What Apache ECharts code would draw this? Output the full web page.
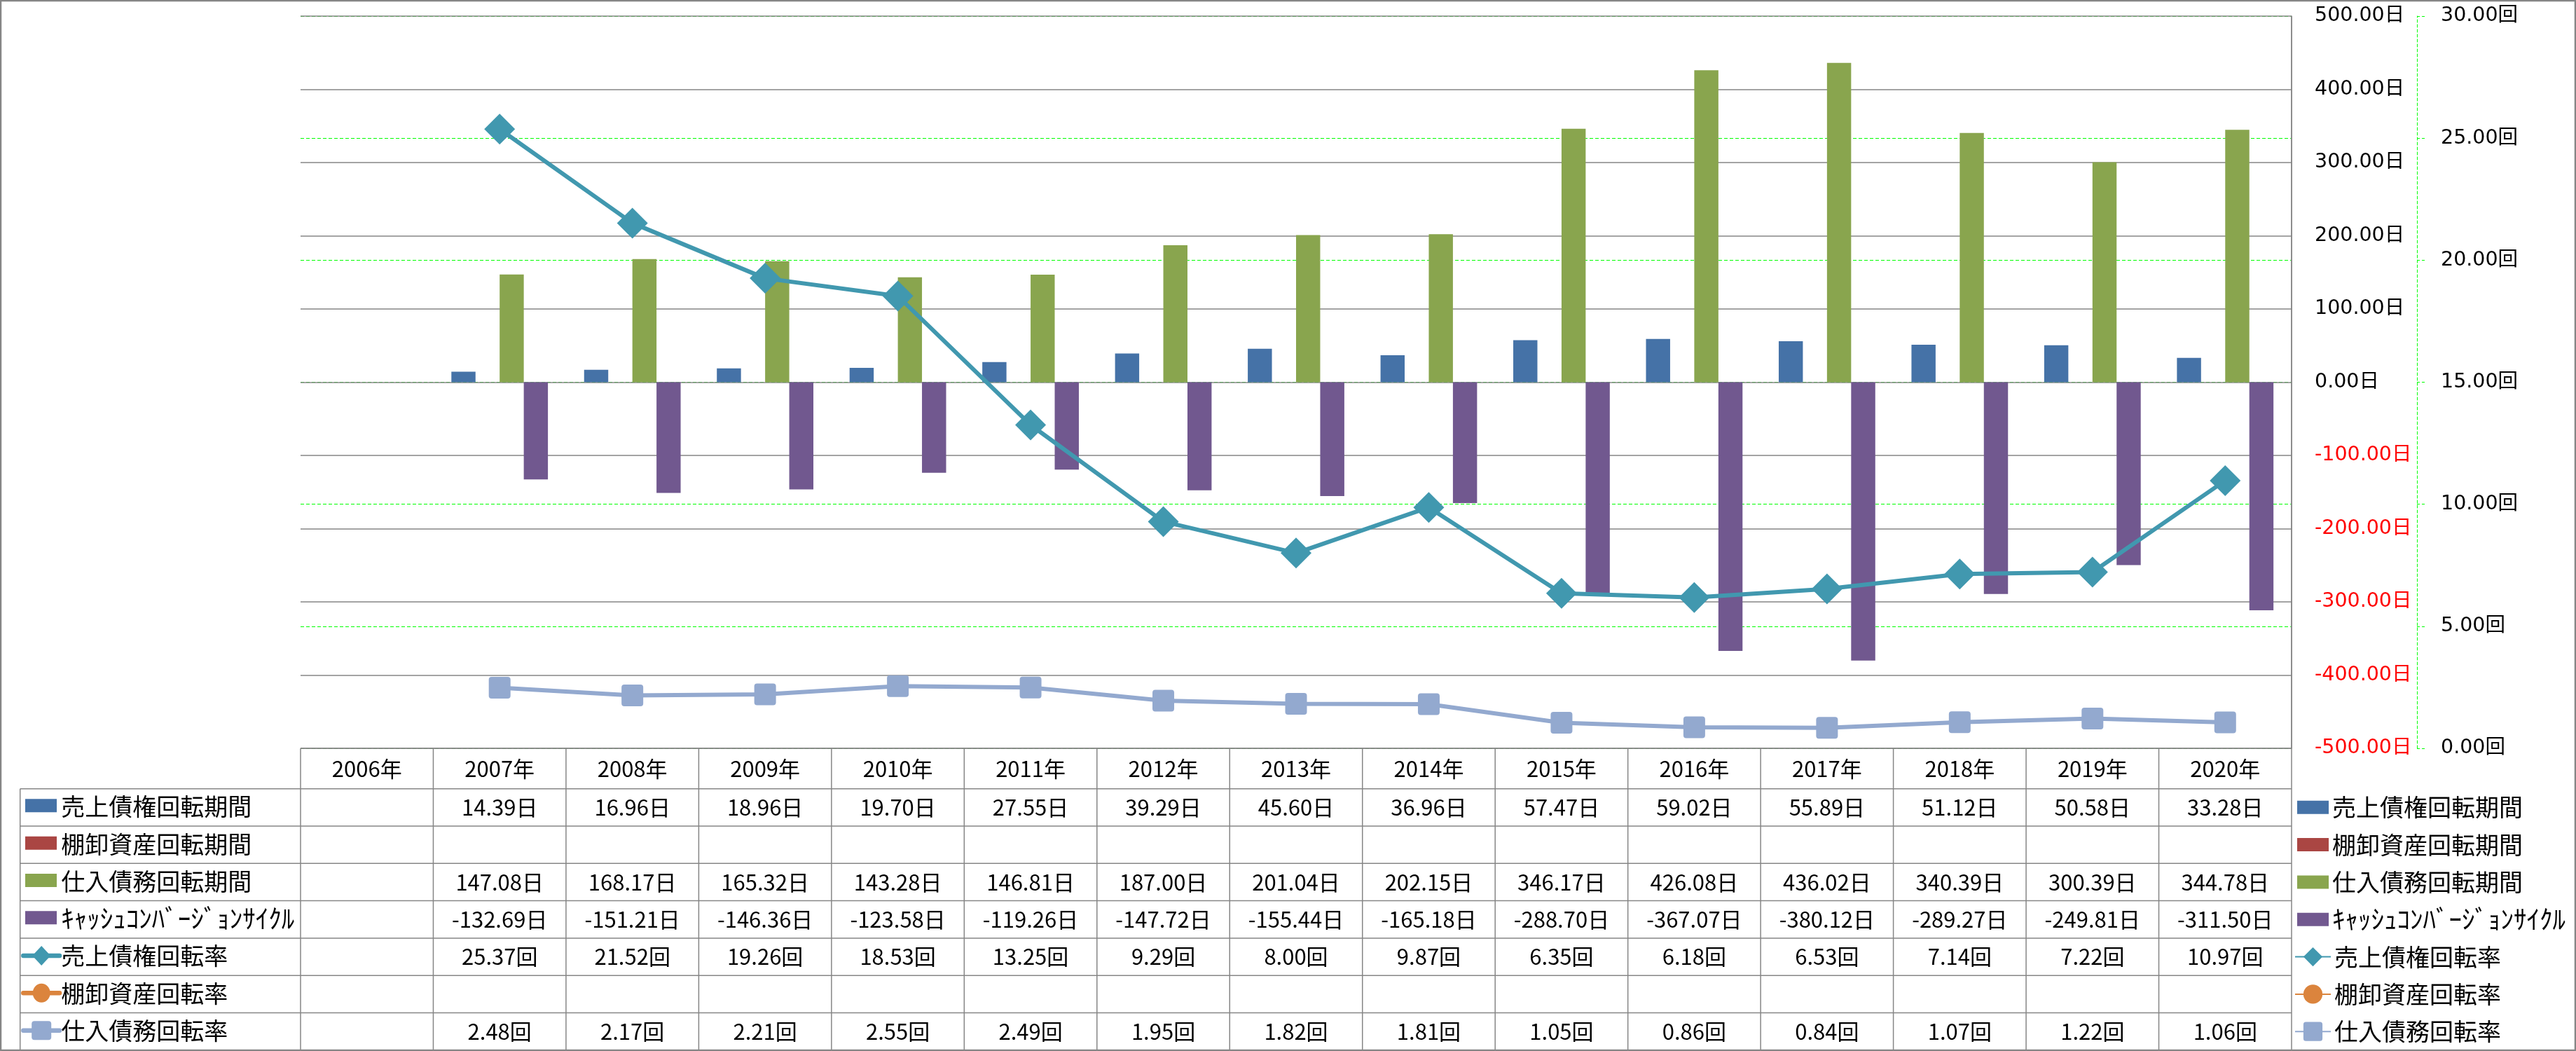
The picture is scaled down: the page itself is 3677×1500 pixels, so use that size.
<!DOCTYPE html>
<html>
<head>
<meta charset="utf-8">
<script src="https://cdn.jsdelivr.net/npm/echarts@6/dist/echarts.min.js"></script>
<style>html,body{margin:0;padding:0;background:#fff}#c{width:3677px;height:1500px}</style>
</head>
<body>
<div id="c"></div>
<script>
// ---- data ----
const years = ['2006年','2007年','2008年','2009年','2010年','2011年','2012年','2013年','2014年','2015年','2016年','2017年','2018年','2019年','2020年'];
const arPeriod  = [null,14.39,16.96,18.96,19.70,27.55,39.29,45.60,36.96,57.47,59.02,55.89,51.12,50.58,33.28];
const invPeriod = [null,null,null,null,null,null,null,null,null,null,null,null,null,null,null];
const apPeriod  = [null,147.08,168.17,165.32,143.28,146.81,187.00,201.04,202.15,346.17,426.08,436.02,340.39,300.39,344.78];
const cccPeriod = [null,-132.69,-151.21,-146.36,-123.58,-119.26,-147.72,-155.44,-165.18,-288.70,-367.07,-380.12,-289.27,-249.81,-311.50];
const arTurnover  = [null,25.37,21.52,19.26,18.53,13.25,9.29,8.00,9.87,6.35,6.18,6.53,7.14,7.22,10.97];
const invTurnover = [null,null,null,null,null,null,null,null,null,null,null,null,null,null,null];
const apTurnover  = [null,2.48,2.17,2.21,2.55,2.49,1.95,1.82,1.81,1.05,0.86,0.84,1.07,1.22,1.06];
const seriesNames = ['売上債権回転期間','棚卸資産回転期間','仕入債務回転期間','ｷｬｯｼｭｺﾝﾊﾞｰｼﾞｮﾝｻｲｸﾙ','売上債権回転率','棚卸資産回転率','仕入債務回転率'];
const seriesUnits = ['日','日','日','日','回','回','回'];
const seriesData = [arPeriod, invPeriod, apPeriod, cccPeriod, arTurnover, invTurnover, apTurnover];
const dayAxis = {min:-500, max:500, interval:100, unit:'日'};
const timesAxis = {min:0, max:30, interval:5, unit:'回'};

// ---- styles ----
const colors = ['#4572A7','#AA4643','#89A54E','#71588F','#4198AF','#DB843D','#93A9CF'];
const CJK = "'Noto Sans CJK JP', sans-serif";
const AXF = "'DejaVu Sans', 'Noto Sans CJK JP', sans-serif";
const GRID_LINE = '#868686';
const sqPath = 'path://M4,0H27A4,4 0 0 1 31,4V27A4,4 0 0 1 27,31H4A4,4 0 0 1 0,27V4A4,4 0 0 1 4,0Z';

const chart = echarts.init(document.getElementById('c'), null, {renderer:'canvas'});

const barCommon = {type:'bar', yAxisIndex:0, barGap:'0%', barCategoryGap:'27.27%'};
const option = {
  animation:false,
  backgroundColor:'#fff',
  grid:{left:429, right:406, top:23, bottom:432, containLabel:false},
  xAxis:{type:'category', data:years, boundaryGap:true,
    axisLine:{show:false}, axisTick:{show:false}, axisLabel:{show:false}, splitLine:{show:false}},
  yAxis:[
    {type:'value', position:'right', z:1, min:dayAxis.min, max:dayAxis.max, interval:dayAxis.interval,
     axisLine:{show:true, onZero:false, lineStyle:{color:GRID_LINE, width:1.5}},
     axisTick:{show:false},
     splitLine:{show:true, lineStyle:{color:GRID_LINE, width:1.5}},
     axisLabel:{margin:33, formatter:v => (v<0?'{neg|':'{pos|') + v.toFixed(2) + dayAxis.unit + '}',
       rich:{pos:{color:'#000', fontSize:28.5, fontFamily:AXF}, neg:{color:'#ff0000', fontSize:28.5, fontFamily:AXF}}}},
    {type:'value', position:'right', z:0, offset:179, min:timesAxis.min, max:timesAxis.max, interval:timesAxis.interval,
     axisLine:{show:true, onZero:false, lineStyle:{color:'#00ff00', width:1, type:[4,3]}},
     axisTick:{show:true, length:12, lineStyle:{color:'#00ff00', width:1, type:[4,3]}},
     splitLine:{show:true, lineStyle:{color:'#00ff00', width:1, type:[5,3]}},
     axisLabel:{margin:34, color:'#000', fontSize:28.5, fontFamily:AXF, formatter:v => v.toFixed(2) + timesAxis.unit}}
  ],
  legend:[
    {data:seriesNames.slice(0,4), orient:'vertical', left:3279, top:1132.3, padding:0,
     itemWidth:45, itemHeight:19, itemGap:13.3, icon:'rect', selectedMode:false,
     formatter:n => n===seriesNames[3] ? '{k|'+n+'}' : n,
     textStyle:{color:'#000', fontSize:34, fontFamily:CJK, lineHeight:40,
       rich:{k:{fontSize:37, fontFamily:CJK, lineHeight:40, color:'#000'}}}},
    {data:seriesNames.slice(4), orient:'vertical', left:3275, top:1345.6, padding:0,
     itemWidth:51, itemHeight:34, itemGap:13.3, selectedMode:false,
     textStyle:{color:'#000', fontSize:34, fontFamily:CJK, lineHeight:40}}
  ],
  series:[
    Object.assign({name:seriesNames[0], data:arPeriod, itemStyle:{color:colors[0]}}, barCommon),
    Object.assign({name:seriesNames[1], data:invPeriod, itemStyle:{color:colors[1]}}, barCommon),
    Object.assign({name:seriesNames[2], data:apPeriod, itemStyle:{color:colors[2]}}, barCommon),
    Object.assign({name:seriesNames[3], data:cccPeriod, itemStyle:{color:colors[3]}}, barCommon),
    {name:seriesNames[4], type:'line', yAxisIndex:1, data:arTurnover, symbol:'diamond', symbolSize:44,
     lineStyle:{color:colors[4], width:6}, itemStyle:{color:colors[4]}, z:5},
    {name:seriesNames[5], type:'line', yAxisIndex:1, data:invTurnover, symbol:'circle', symbolSize:30,
     lineStyle:{color:colors[5], width:6}, itemStyle:{color:colors[5]}, z:5},
    {name:seriesNames[6], type:'line', yAxisIndex:1, data:apTurnover, symbol:sqPath, symbolSize:31,
     lineStyle:{color:colors[6], width:6}, itemStyle:{color:colors[6]}, z:5}
  ]
};
chart.setOption(option);

// ---- data table under the plot, aligned to the category axis ----
const xs = years.map((y,i) => chart.convertToPixel({xAxisIndex:0}, i));
const bw = xs[1] - xs[0];
const tLeft = xs[0] - bw/2, tRight = xs[xs.length-1] + bw/2;
const headTop = chart.convertToPixel({yAxisIndex:0}, dayAxis.min);
const rowTop = 1125.7, rowH = 53.3, nRows = seriesNames.length;
const labelLeft = 28.7;
const tableBottom = rowTop + rowH*nRows;
const lineStyle = {stroke:GRID_LINE, lineWidth:1.5};
const g = [];
// outer chart border
g.push({type:'rect', shape:{x:1, y:1, width:3675, height:1498}, style:{fill:'none', stroke:GRID_LINE, lineWidth:2.5}, z:100});
// plot-area right border (over the secondary grid lines)
g.push({type:'line', shape:{x1:tRight, y1:chart.convertToPixel({yAxisIndex:0}, dayAxis.max), x2:tRight, y2:headTop}, style:lineStyle, z:1});
// horizontal lines
g.push({type:'line', shape:{x1:tLeft, y1:headTop, x2:tRight, y2:headTop}, style:lineStyle});
for (let k=0;k<=nRows;k++){
  const y = rowTop + rowH*k;
  g.push({type:'line', shape:{x1:labelLeft, y1:y, x2:tRight, y2:y}, style:lineStyle});
}
// vertical lines
g.push({type:'line', shape:{x1:labelLeft, y1:rowTop, x2:labelLeft, y2:tableBottom}, style:lineStyle});
for (let i=0;i<=years.length;i++){
  const x = tLeft + bw*i;
  g.push({type:'line', shape:{x1:x, y1:headTop, x2:x, y2:tableBottom}, style:lineStyle});
}
// header
years.forEach((y,i) => {
  g.push({type:'text', x:xs[i], y:(headTop+rowTop)/2, style:{text:y, fill:'#000', fontSize:31, fontFamily:CJK, align:'center', verticalAlign:'middle'}});
});
// rows
seriesNames.forEach((name,r) => {
  const cy = rowTop + rowH*(r+0.5);
  // legend key
  if (r < 4) {
    g.push({type:'rect', shape:{x:36, y:cy-12, width:45, height:19}, style:{fill:colors[r]}});
  } else {
    g.push({type:'line', shape:{x1:33.3, y1:cy-1.5, x2:85, y2:cy-1.5}, style:{stroke:colors[r], lineWidth:6.5, lineCap:'round'}});
    const mx = 59.2, my = cy-1.5;
    if (r === 4) g.push({type:'polygon', shape:{points:[[mx,my-14],[mx+13,my],[mx,my+14],[mx-13,my]]}, style:{fill:colors[r]}});
    if (r === 5) g.push({type:'ellipse', shape:{cx:mx, cy:my, rx:12.5, ry:13.5}, style:{fill:colors[r]}});
    if (r === 6) g.push({type:'rect', shape:{x:mx-14, y:my-13.5, width:28, height:27, r:4}, style:{fill:colors[r]}});
  }
  g.push({type:'text', x:87.3, y:cy-1, style:{text:name, fill:'#000', fontSize: r===3?37:34, fontFamily:CJK, align:'left', verticalAlign:'middle'}});
  seriesData[r].forEach((v,i) => {
    if (v === null) return;
    g.push({type:'text', x:xs[i], y:cy, style:{text:v.toFixed(2)+seriesUnits[r], fill:'#000', fontSize:31, fontFamily:CJK, align:'center', verticalAlign:'middle'}});
  });
});
chart.setOption({graphic:{elements:g}});
</script>
</body>
</html>
